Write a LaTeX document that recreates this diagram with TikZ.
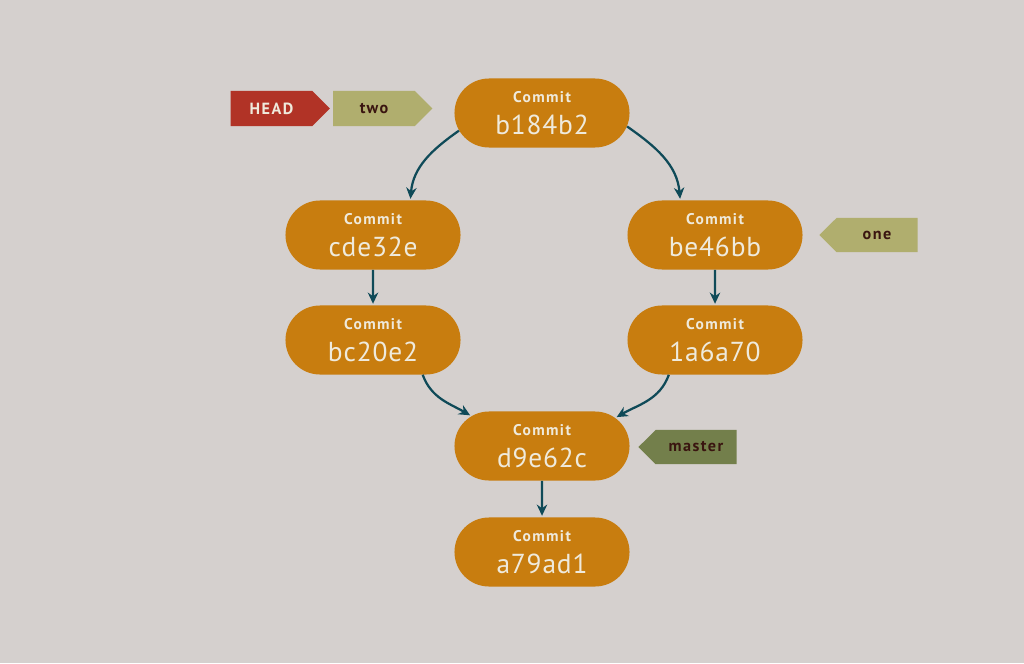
\documentclass[tikz,border=0pt]{standalone}
\usepackage{fontspec}
\setmainfont{PT Sans}
\newfontfamily\spaced[LetterSpace=9]{PT Sans}
\newfontfamily\hashfont[LetterSpace=3]{PT Sans}
\usepackage{xcolor}
\usetikzlibrary{arrows.meta,positioning,shapes.misc,shapes.symbols}

\definecolor{bgcol}{HTML}{D5D0CE}
\definecolor{commitcol}{HTML}{C87D0F}
\definecolor{textcol}{HTML}{EFEADC}
\definecolor{arrowcol}{HTML}{0F4A58}
\definecolor{headcol}{HTML}{B13326}
\definecolor{branchcol}{HTML}{B0AE6E}
\definecolor{mastercol}{HTML}{737F4B}
\definecolor{tagtext}{HTML}{3A1510}

\newcommand{\commitlabel}[1]{\fontsize{11}{13}\selectfont\bfseries\spaced Commit\\[7.5pt]
  \fontsize{19.5}{21.5}\selectfont\mdseries\hashfont #1}

\begin{document}
\begin{tikzpicture}[
  x=0.025cm, y=-0.025cm,
  commit/.style={rounded rectangle, fill=commitcol, text=textcol, align=center,
    minimum width=4.375cm, minimum height=1.725cm, inner sep=0pt},
  tagright/.style={signal, signal to=east, signal pointer angle=90, fill=#1,
    minimum width=2.475cm, minimum height=0.875cm, inner sep=0pt,
    font=\fontsize{11.5}{13}\selectfont\bfseries\spaced},
  tagleft/.style={signal, signal to=west, signal pointer angle=90, fill=#1,
    minimum width=2.45cm, minimum height=0.85cm, inner sep=0pt,
    font=\fontsize{11.5}{13}\selectfont\bfseries\spaced, text=tagtext},
  arrow/.style={-{Stealth[length=2.8mm, width=2.6mm]}, line width=1.6pt, draw=arrowcol, shorten >=1pt}
]
\fill[bgcol] (0,0) rectangle (1024,663);
\useasboundingbox (0,0) rectangle (1024,663);

\node[commit] (b184b2) at (542,113) {\commitlabel{b184b2}};
\node[commit] (cde32e) at (373,235) {\commitlabel{cde32e}};
\node[commit] (be46bb) at (715,235) {\commitlabel{be46bb}};
\node[commit] (bc20e2) at (373,340) {\commitlabel{bc20e2}};
\node[commit] (1a6a70) at (715,340) {\commitlabel{1a6a70}};
\node[commit] (d9e62c) at (542,446) {\commitlabel{d9e62c}};
\node[commit] (a79ad1) at (542,552) {\commitlabel{a79ad1}};

\node[tagright=headcol, text=textcol] (head) at (271.5,108.5) {HEAD};
\node[tagright=branchcol, text=tagtext] (two) at (374,108.5) {two};
\node[tagleft=branchcol] (one) at (877,235) {one};
\node[tagleft=mastercol] (master) at (696,447) {master};

\draw[arrow] (b184b2.192) to[out=215, in=85] (cde32e.43);
\draw[arrow] (b184b2.351) to[out=-35, in=95] (be46bb.135);
\draw[arrow] (cde32e) -- (bc20e2);
\draw[arrow] (be46bb) -- (1a6a70);
\draw[arrow] (bc20e2.325) to[out=-70, in=150] (d9e62c.157);
\draw[arrow] (1a6a70.217) to[out=-110, in=30] (d9e62c.21);
\draw[arrow] (d9e62c) -- (a79ad1);
\end{tikzpicture}
\end{document}
